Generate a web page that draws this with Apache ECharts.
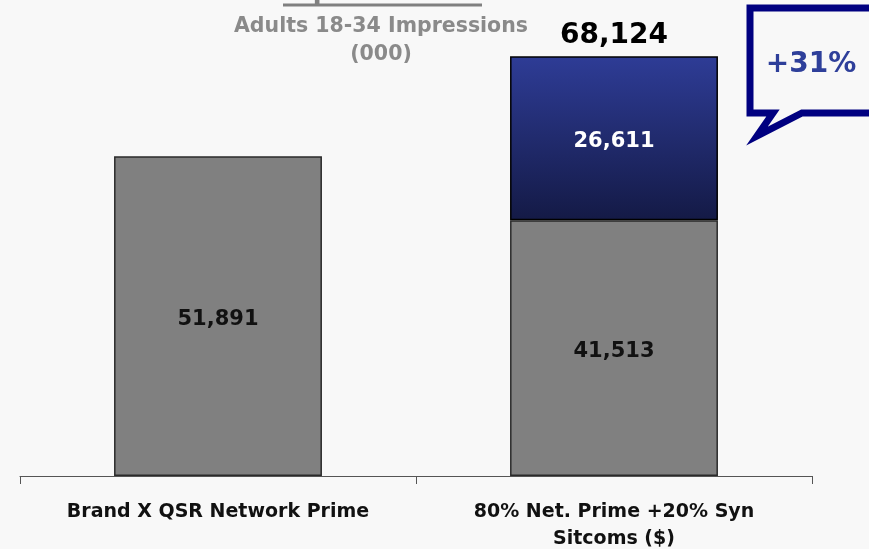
<!DOCTYPE html>
<html>
<head>
<meta charset="utf-8">
<script src="https://cdn.jsdelivr.net/npm/echarts@6/dist/echarts.min.js"></script>
<style>
  html, body { margin: 0; padding: 0; background: #f8f8f8; }
  #main { width: 869px; height: 549px; }
</style>
</head>
<body>
<div id="main"></div>
<script>
// data
var categories = ['Brand X QSR Network Prime', '80% Net. Prime +20% Syn\nSitcoms ($)'];
var networkPrime = [51891, 41513];
var synSitcoms = [null, 26611];
var totals = [null, 68124];
var calloutText = '+31%';

var font = 'DejaVu Sans';
var chart = echarts.init(document.getElementById('main'));

var option = {
  backgroundColor: '#f8f8f8',
  animation: false,
  grid: { left: 20, right: 57, top: 20, bottom: 73, outerBoundsMode: 'none' },
  xAxis: {
    type: 'category',
    data: categories,
    axisLine: { lineStyle: { color: '#555', width: 1 } },
    axisTick: { show: true, length: 8, lineStyle: { color: '#555' } },
    axisLabel: {
      color: '#111', fontFamily: font, fontWeight: 'bold', fontSize: 19,
      lineHeight: 27, margin: 23, verticalAlign: 'top'
    }
  },
  yAxis: {
    type: 'value', min: 0, max: 74000, show: false,
    splitLine: { show: false }
  },
  series: [
    {
      name: 'Network Prime',
      type: 'bar',
      stack: 'total',
      barWidth: '52.5%',
      data: networkPrime,
      itemStyle: { color: '#808080', borderColor: '#2a2a2a', borderWidth: 1.5 },
      label: {
        show: true, position: 'inside', color: '#111', offset: [0, 3],
        fontFamily: font, fontWeight: 'bold', fontSize: 21,
        formatter: function (p) { return p.value.toLocaleString('en-US'); }
      }
    },
    {
      name: 'Syn Sitcoms',
      type: 'bar',
      stack: 'total',
      data: synSitcoms,
      itemStyle: {
        color: new echarts.graphic.LinearGradient(0, 0, 0, 1, [
          { offset: 0, color: '#2e3c96' },
          { offset: 1, color: '#141a46' }
        ]),
        borderColor: '#000', borderWidth: 1.5
      },
      label: {
        show: true, position: 'inside', color: '#fff', offset: [0, 3],
        fontFamily: font, fontWeight: 'bold', fontSize: 21,
        formatter: function (p) { return p.value == null ? '' : p.value.toLocaleString('en-US'); }
      }
    },
    {
      name: 'Total',
      type: 'bar',
      stack: 'total',
      data: totals.map(function (t) { return t == null ? null : 0; }),
      itemStyle: { color: 'transparent' },
      label: {
        show: true, position: 'top', distance: 6, color: '#000',
        fontFamily: font, fontWeight: 'bold', fontSize: 28,
        formatter: function (p) {
          var t = totals[p.dataIndex];
          return t == null ? '' : t.toLocaleString('en-US');
        }
      }
    }
  ],
  graphic: [
    {
      type: 'text', x: 382, y: -20,
      style: {
        text: 'Equal Dollars', textAlign: 'center',
        fill: '#808080', font: 'bold 26px "DejaVu Sans"'
      }
    },
    {
      type: 'line',
      shape: { x1: 283, y1: 5, x2: 482, y2: 5 },
      style: { stroke: '#808080', lineWidth: 3 }
    },
    {
      type: 'text', x: 381, y: 13,
      style: {
        text: 'Adults 18-34 Impressions\n(000)', textAlign: 'center',
        fill: '#8a8a8a', font: 'bold 20.5px "DejaVu Sans"', lineHeight: 28
      }
    },
    {
      type: 'polyline',
      shape: {
        points: [[890, 8], [750, 8], [750, 113], [773, 113], [757, 136], [802, 113], [890, 113]]
      },
      style: { stroke: '#000080', lineWidth: 7, fill: null, lineJoin: 'miter' }
    },
    {
      type: 'text', x: 811, y: 65,
      style: {
        text: calloutText, textAlign: 'center', textVerticalAlign: 'middle',
        fill: '#2e3f9a', font: 'bold 28px "DejaVu Sans"'
      }
    }
  ]
};

chart.setOption(option);
</script>
</body>
</html>
